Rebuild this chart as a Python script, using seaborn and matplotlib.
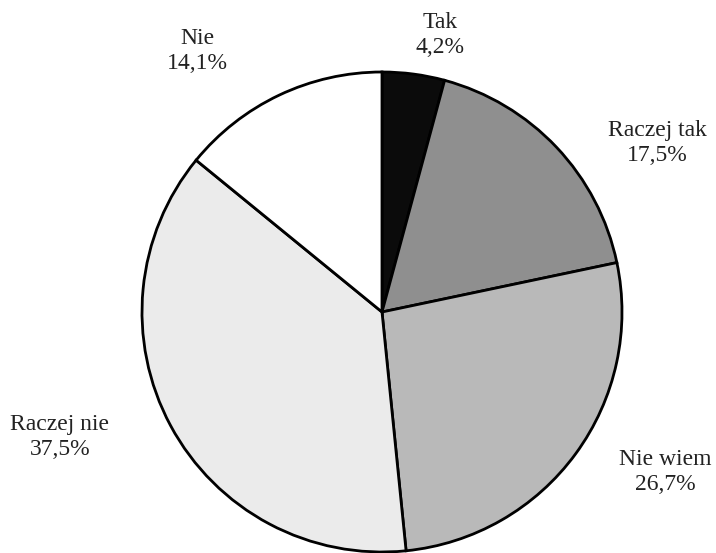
import matplotlib
matplotlib.use("Agg")
import matplotlib.pyplot as plt
import seaborn as sns

categories = ["Tak", "Raczej tak", "Nie wiem", "Raczej nie", "Nie"]
values = [4.2, 17.5, 26.7, 37.5, 14.1]
value_labels = ["4,2%", "17,5%", "26,7%", "37,5%", "14,1%"]
slice_colors = ["#0b0b0b", "#8f8f8f", "#b9b9b9", "#ebebeb", "#ffffff"]

sns.set_theme(style="white")
plt.rcParams["font.family"] = ["Liberation Serif", "DejaVu Serif"]

palette = sns.color_palette(slice_colors)

fig = plt.figure(figsize=(7.16, 5.53), dpi=100)
ax = fig.add_axes([0, 0, 1, 1])
ax.axis("off")

wedges, _ = ax.pie(
    values,
    colors=palette,
    startangle=90,
    counterclock=False,
    radius=1.0,
    center=(0, 0),
    wedgeprops=dict(edgecolor="black", linewidth=2.0),
)

# label positions (pie radius units)
label_pos = [(0.242, 1.154), (1.146, 0.704), (1.179, -0.667),
             (-1.342, -0.521), (-0.771, 1.0875)]
for cat, lab, (x, y) in zip(categories, value_labels, label_pos):
    ax.text(x, y, f"{cat}\n{lab}", ha="center", va="center",
            fontsize=17, color="#222222", linespacing=1.2)

ax.set_xlim(-382 / 240, (716 - 382) / 240)
ax.set_ylim(-(553 - 312) / 240, 312 / 240)
ax.set_aspect("auto")

fig.savefig("out.png", dpi=100, facecolor="white")
